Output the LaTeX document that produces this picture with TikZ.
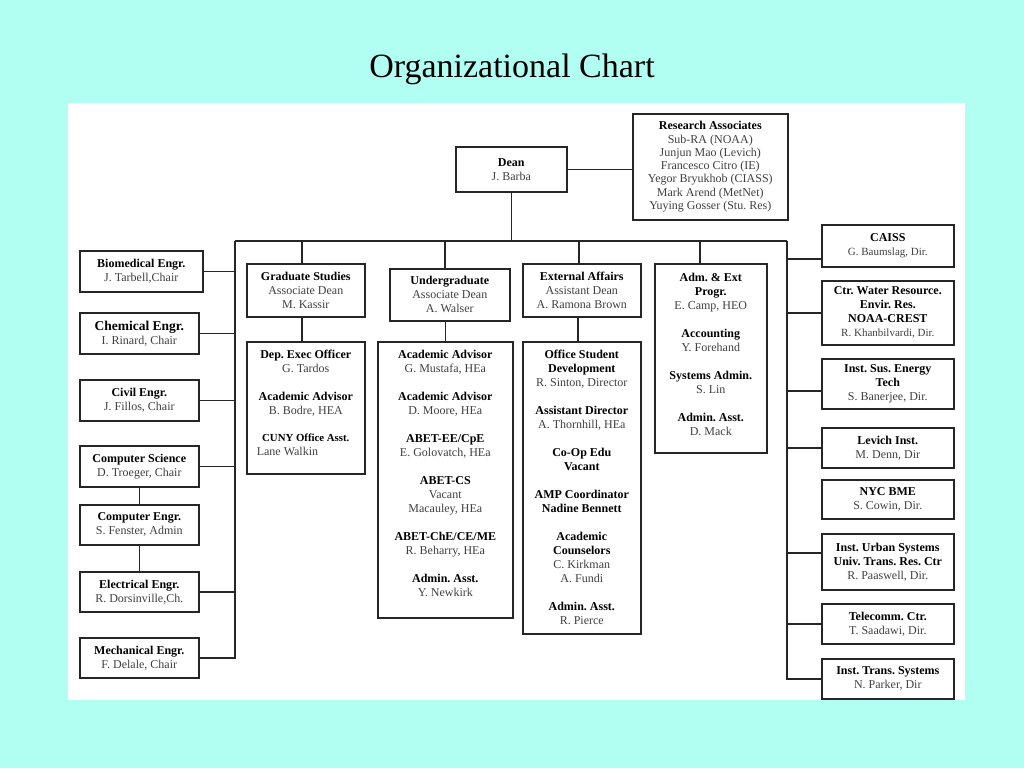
\documentclass[tikz,border=0pt]{standalone}
\usepackage{fontspec}
\setmainfont{Liberation Serif}
\definecolor{slidebg}{RGB}{176,255,242}
\newcommand{\unithead}[1]{\textbf{\color{black}#1}}
\newcommand{\padbelow}[1]{\rule[-#1]{0pt}{#1}}
\tikzset{
  unit/.style={draw=black!85,line width=1.6pt,fill=white,align=center,anchor=north west,
    inner sep=1pt,text=black!75,font=\fontsize{12}{14}\selectfont},
  link/.style={draw=black!85,line width=1.6pt},
}
\frenchspacing
\begin{document}
\begin{tikzpicture}[x=1pt,y=-1pt]
\fill[slidebg] (0,0) rectangle (1024,768);
\useasboundingbox (0,0) rectangle (1024,768);
\fill[white] (68,103) rectangle (965,700);
\node[font=\fontsize{34}{40}\selectfont] (title) at (512,69) {Organizational Chart};
% top
\node[unit,minimum width=111pt,minimum height=45pt] (dean) at (455,146) {\unithead{Dean}\\J. Barba};
\node[unit,minimum width=155pt,minimum height=106pt,font=\fontsize{12}{13.3}\selectfont] (resassoc) at (632,113)
  {\unithead{Research Associates}\\Sub-RA (NOAA)\\Junjun Mao (Levich)\\Francesco Citro (IE)\\Yegor Bryukhob (CIASS)\\Mark Arend (MetNet)\\Yuying Gosser (Stu. Res)};
\coordinate (barL) at (235,241);
\coordinate (barR) at (787,241);
% departments
\node[unit,minimum width=123pt,minimum height=41pt] (biomed) at (79,250) {\unithead{Biomedical Engr.}\\J. Tarbell,Chair};
\node[unit,minimum width=119pt,minimum height=41pt] (chem) at (79,312) {\unithead{\fontsize{13.5}{14}\selectfont Chemical Engr.}\\I. Rinard, Chair};
\node[unit,minimum width=119pt,minimum height=41pt] (civil) at (79,379) {\unithead{Civil Engr.}\\J. Fillos, Chair};
\node[unit,minimum width=119pt,minimum height=41pt] (compsci) at (79,445) {\unithead{Computer Science}\\D. Troeger, Chair};
\node[unit,minimum width=119pt,minimum height=40pt] (compeng) at (79,504) {\unithead{Computer Engr.}\\S. Fenster, Admin};
\node[unit,minimum width=119pt,minimum height=40pt] (elec) at (79,571) {\unithead{Electrical Engr.}\\R. Dorsinville,Ch.};
\node[unit,minimum width=119pt,minimum height=40pt] (mech) at (79,637) {\unithead{Mechanical Engr.}\\F. Delale, Chair};
% deans and offices
\node[unit,minimum width=118pt,minimum height=53pt] (grad) at (246,263) {\unithead{Graduate Studies}\\Associate Dean\\M. Kassir};
\node[unit,minimum width=118pt,minimum height=132pt] (depexec) at (246,341)
  {\unithead{Dep. Exec Officer}\\G. Tardos\\[14pt]\unithead{Academic Advisor}\\B. Bodre, HEA\\[13pt]
   \unithead{\fontsize{10.8}{14}\selectfont CUNY Office Asst.}\\\makebox[98pt][l]{Lane Walkin}\padbelow{10pt}};
\node[unit,minimum width=120pt,minimum height=52pt] (ugrad) at (389,268) {\unithead{Undergraduate}\\Associate Dean\\A. Walser};
\node[unit,minimum width=135pt,minimum height=276pt] (acadadv) at (377,341)
  {\unithead{Academic Advisor}\\G. Mustafa, HEa\\[14pt]\unithead{Academic Advisor}\\D. Moore, HEa\\[14pt]
   \unithead{ABET-EE/CpE}\\E. Golovatch, HEa\\[14pt]\unithead{ABET-CS}\\Vacant\\Macauley, HEa\\[14pt]
   \unithead{ABET-ChE/CE/ME}\\R. Beharry, HEa\\[14pt]\unithead{Admin. Asst.}\\Y. Newkirk\padbelow{12pt}};
\node[unit,minimum width=118pt,minimum height=53pt] (extaff) at (522,263) {\unithead{External Affairs}\\Assistant Dean\\A. Ramona Brown};
\node[unit,minimum width=118pt,minimum height=292pt] (osd) at (522,341)
  {\unithead{Office Student}\\\unithead{Development}\\R. Sinton, Director\\[14pt]\unithead{Assistant Director}\\A. Thornhill, HEa\\[14pt]
   \unithead{Co-Op Edu}\\\unithead{Vacant}\\[14pt]\unithead{AMP Coordinator}\\\unithead{Nadine Bennett}\\[14pt]
   \unithead{Academic}\\\unithead{Counselors}\\C. Kirkman\\A. Fundi\\[14pt]\unithead{Admin. Asst.}\\R. Pierce};
\node[unit,minimum width=112pt,minimum height=189pt] (admext) at (654,263)
  {\unithead{Adm. \& Ext}\\\unithead{Progr.}\\E. Camp, HEO\\[14pt]\unithead{Accounting}\\Y. Forehand\\[14pt]
   \unithead{Systems Admin.}\\S. Lin\\[14pt]\unithead{Admin. Asst.}\\D. Mack\padbelow{8pt}};
% institutes
\node[unit,minimum width=132pt,minimum height=42pt] (caiss) at (821,224) {\unithead{CAISS}\\{\fontsize{11}{14}\selectfont G. Baumslag, Dir.}};
\node[unit,minimum width=132pt,minimum height=64pt] (water) at (821,280)
  {\unithead{Ctr. Water Resource.}\\\unithead{Envir. Res.}\\\unithead{NOAA-CREST}\\{\fontsize{11}{14}\selectfont R. Khanbilvardi, Dir.}};
\node[unit,minimum width=132pt,minimum height=50pt] (sustain) at (821,358) {\unithead{Inst. Sus. Energy}\\\unithead{Tech}\\S. Banerjee, Dir.};
\node[unit,minimum width=132pt,minimum height=40pt] (levich) at (821,427) {\unithead{Levich Inst.}\\M. Denn, Dir};
\node[unit,minimum width=132pt,minimum height=39pt] (nycbme) at (821,479) {\unithead{NYC BME}\\S. Cowin, Dir.};
\node[unit,minimum width=132pt,minimum height=56pt] (urban) at (821,533)
  {\unithead{Inst. Urban Systems}\\\unithead{Univ. Trans. Res. Ctr}\\R. Paaswell, Dir.};
\node[unit,minimum width=132pt,minimum height=40pt] (telecomm) at (821,603) {\unithead{Telecomm. Ctr.}\\T. Saadawi, Dir.};
\node[unit,minimum width=132pt,minimum height=40pt] (transsys) at (821,658) {\unithead{Inst. Trans. Systems}\\N. Parker, Dir};
% lines
\draw[link] (dean) -- (dean -| resassoc.west);
\draw[link] (dean.south) -- (dean.south |- barL);
\draw[link] (barL) -- (barR);
\draw[link] ([xshift=-4pt]grad.north) -- ([xshift=-4pt]grad.north |- barL);
\draw[link] ([xshift=-4pt]grad.south) -- ([xshift=-4pt]depexec.north);
\draw[link] ([xshift=-5pt]ugrad.north) -- ([xshift=-5pt]ugrad.north |- barL);
\draw[link] (acadadv.north) -- (acadadv.north |- ugrad.south);
\draw[link] ([xshift=-3pt]extaff.north) -- ([xshift=-3pt]extaff.north |- barL);
\draw[link] ([xshift=-4pt]extaff.south) -- ([xshift=-4pt]osd.north);
\draw[link] ([xshift=-11pt]admext.north) -- ([xshift=-11pt]admext.north |- barL);
\draw[link] (barL) |- (mech.east);
\foreach \d in {biomed,chem,civil,compsci,elec}
  \draw[link] (\d.east) -- (\d.east -| barL);
\draw[link] (compsci) -- (compeng) -- (elec);
\draw[link] (barR) |- (transsys.west);
\draw[link] ([yshift=-13pt]caiss.west) -- ([yshift=-13pt]caiss.west -| barR);
\draw[link] ([yshift=-7pt]sustain.west) -- ([yshift=-7pt]sustain.west -| barR);
\draw[link] ([yshift=9pt]urban.west) -- ([yshift=9pt]urban.west -| barR);
\foreach \i in {water,levich,telecomm}
  \draw[link] (\i.west) -- (\i.west -| barR);
\end{tikzpicture}
\end{document}
